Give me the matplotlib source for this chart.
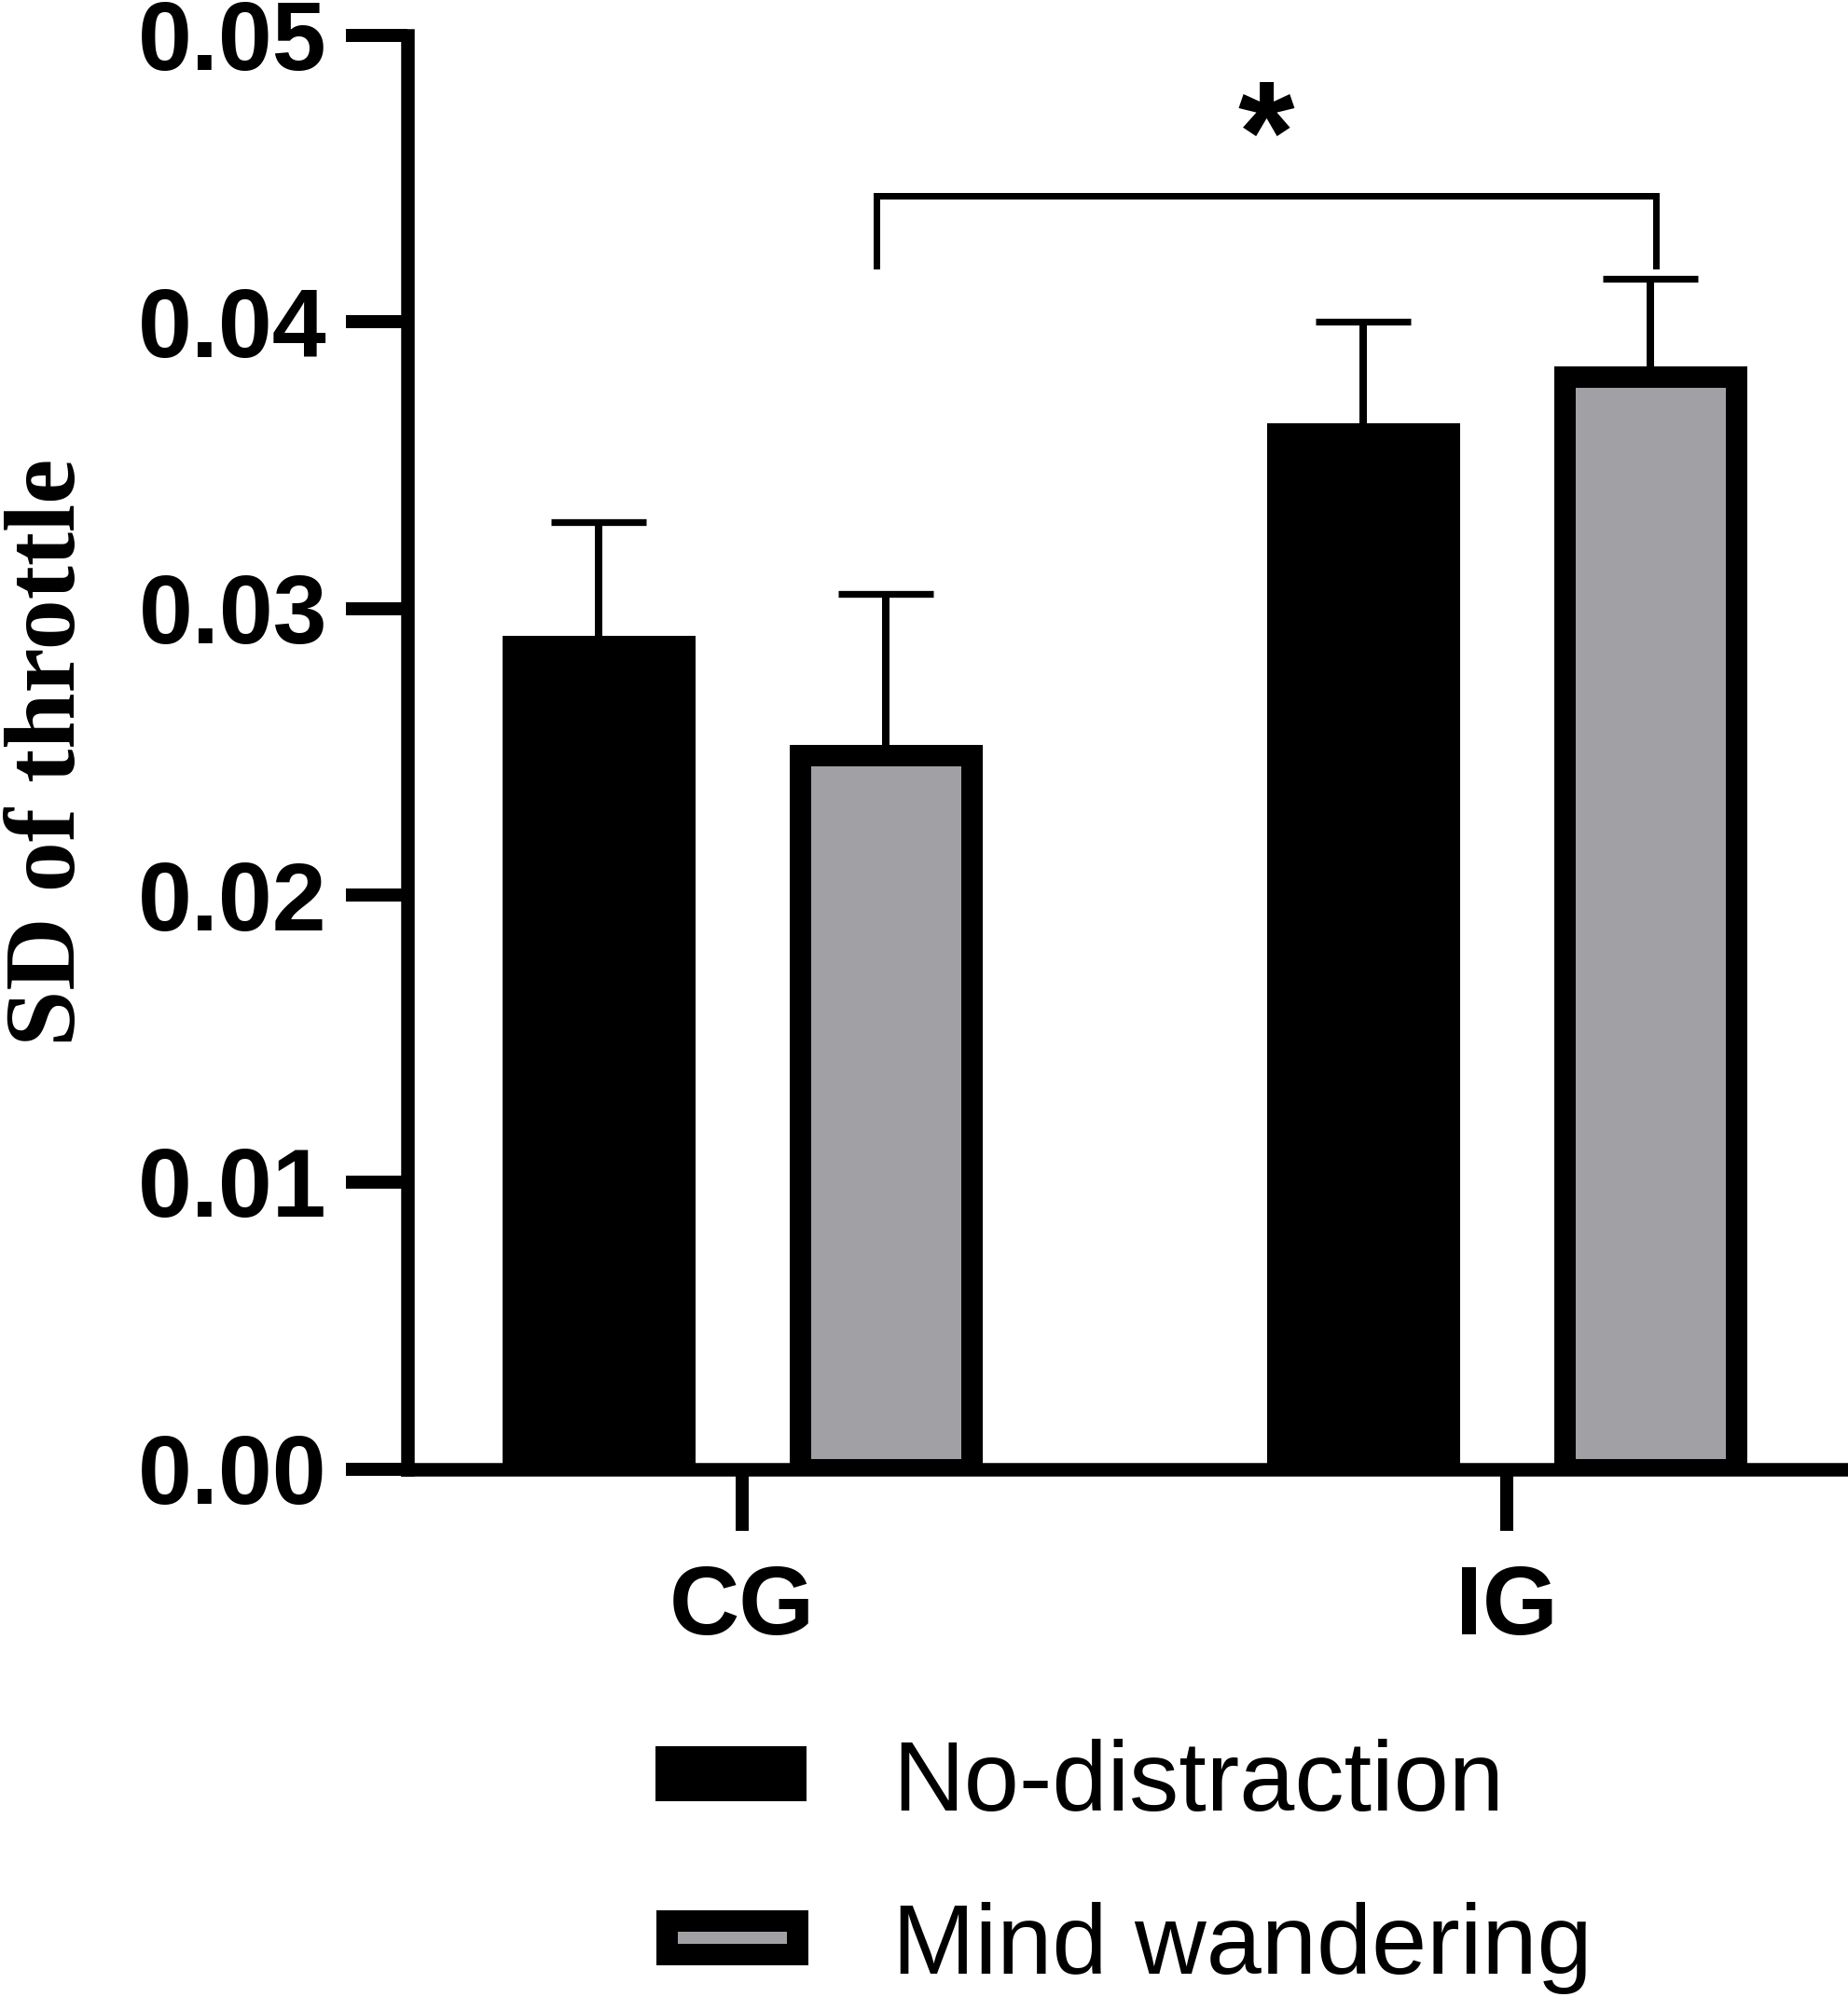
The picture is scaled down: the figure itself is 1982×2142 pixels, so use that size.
import numpy as np
import matplotlib
matplotlib.use("Agg")
import matplotlib.pyplot as plt
from matplotlib.patches import Rectangle
from matplotlib.ticker import FormatStrFormatter

plt.rcParams['font.family'] = ['Liberation Sans', 'DejaVu Sans']

# ---- data ----
groups = ['CG', 'IG']
series = ['No-distraction', 'Mind wandering']
nd_mean = [0.0287, 0.0361]
nd_sem = [0.0043, 0.0039]
mw_mean = [0.0249, 0.0381]
mw_sem = [0.0056, 0.0034]
y_ticks = [0.00, 0.01, 0.02, 0.03, 0.04, 0.05]
y_label = 'SD of throttle'
sig_label = '*'
sig_y = [0.04195, 0.04439]   # bracket leg bottom / top

GRAY = '#a1a1a5'
PT = 0.72  # points per pixel at dpi=100

fig = plt.figure(figsize=(19.83, 21.42), dpi=100)
ax = fig.add_axes([437 / 1983, 566.5 / 2142, 1 - 437 / 1983, 1538 / 2142])

x = np.arange(len(groups))
off = 0.1878
w = 0.2232
edge_lw = 23 * PT

ax.bar(x - off, nd_mean, w, color='black', edgecolor='black', linewidth=edge_lw,
       zorder=2, label=series[0])
ax.bar(x + off, mw_mean, w, color=GRAY, edgecolor='black', linewidth=edge_lw,
       zorder=2, label=series[1])
ax.errorbar(x - off, nd_mean, yerr=[np.zeros(len(groups)), nd_sem], fmt='none',
            ecolor='black', elinewidth=8 * PT, capsize=51 * PT, capthick=7.3 * PT, zorder=3)
ax.errorbar(x + off, mw_mean, yerr=[np.zeros(len(groups)), mw_sem], fmt='none',
            ecolor='black', elinewidth=8 * PT, capsize=51 * PT, capthick=7.3 * PT, zorder=3)

# significance bracket between the two Mind-wandering bars
xl = x[0] + off - 0.012
xr = x[1] + off + 0.007
ax.plot([xl, xl, xr, xr], [sig_y[0], sig_y[1], sig_y[1], sig_y[0]], color='black',
        lw=7 * PT, clip_on=False, solid_joinstyle='miter', zorder=4)
ax.text((xl + xr) / 2, 0.0462, sig_label, ha='center', va='center',
        fontsize=112, fontweight='bold', clip_on=False)

ax.set_xlim((437 - 796) / 820, (1983 - 796) / 820)
ax.set_ylim(0, 0.05)
ax.set_yticks(y_ticks)
ax.yaxis.set_major_formatter(FormatStrFormatter('%.2f'))
ax.set_xticks(x, groups)

for s in ['top', 'right']:
    ax.spines[s].set_visible(False)
for s in ['left', 'bottom']:
    ax.spines[s].set_linewidth(14.5 * PT)
    ax.spines[s].set_capstyle('projecting')

ax.tick_params(axis='both', length=66 * PT, width=14 * PT, labelsize=75)
ax.tick_params(axis='y', pad=20 * PT)
ax.tick_params(axis='x', pad=37 * PT)
for lab in ax.get_xticklabels() + ax.get_yticklabels():
    lab.set_fontweight('bold')

ax.set_ylabel(y_label, fontfamily='Liberation Serif', fontweight='bold', fontsize=78)
ax.yaxis.set_label_coords((103 - 437) / 1546, 0.5)

# ---- legend (drawn manually, pixel layout) ----
H = 2142
tr = fig.dpi_scale_trans
fig.add_artist(Rectangle((703 / 100, (H - 1932) / 100), 162 / 100, 59 / 100,
                         facecolor='black', edgecolor='none', transform=tr))
fig.add_artist(Rectangle((714.5 / 100, (H - 2095.5) / 100), 140 / 100, 36 / 100,
                         facecolor=GRAY, edgecolor='black', linewidth=edge_lw,
                         joinstyle='miter', transform=tr))
fig.text(957 / 1983, (H - 1942) / H, series[0], fontsize=76.5, ha='left', va='baseline')
fig.text(957 / 1983, (H - 2117) / H, series[1], fontsize=76.5, ha='left', va='baseline')

fig.savefig('out.png', dpi=100, facecolor='white')
